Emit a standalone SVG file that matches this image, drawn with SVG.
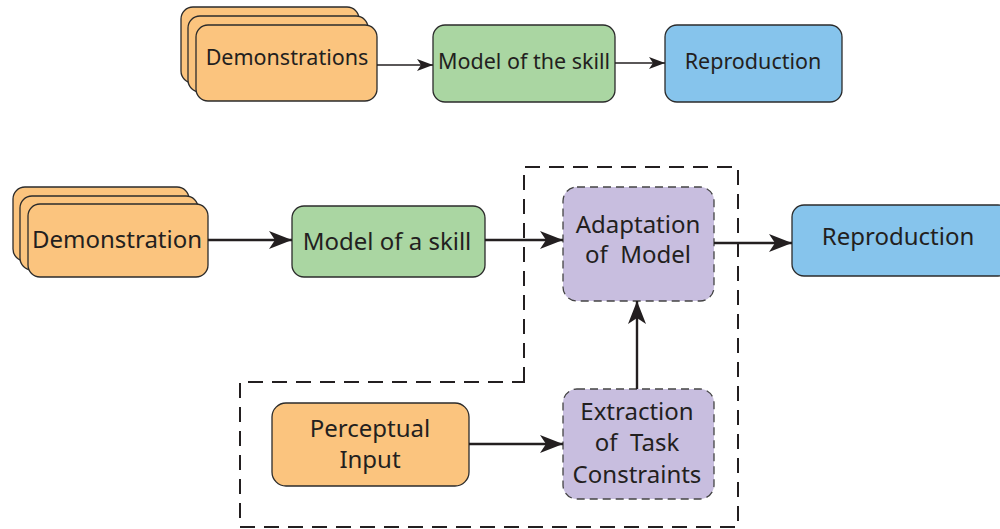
<svg xmlns="http://www.w3.org/2000/svg" width="1000" height="529" viewBox="0 0 1000 529">
  <defs>
    <marker id="arrow-sm" markerUnits="userSpaceOnUse" markerWidth="17" markerHeight="12" refX="16" refY="6" orient="auto">
      <path d="M0,0 L16,6 L0,12 L4,6 Z" fill="#231f20"/>
    </marker>
    <marker id="arrow" markerUnits="userSpaceOnUse" markerWidth="24" markerHeight="18" refX="23" refY="9" orient="auto">
      <path d="M0,0 L23,9 L0,18 L6,9 Z" fill="#231f20"/>
    </marker>
    <style>
      .orange { fill: #fbc47e; stroke: #2b2b2b; stroke-width: 1.3; }
      .green { fill: #aad6a2; stroke: #2b2b2b; stroke-width: 1.3; }
      .blue { fill: #86c4ec; stroke: #2b2b2b; stroke-width: 1.3; }
      .purple { fill: #c8bedf; stroke: #444; stroke-width: 1.3; stroke-dasharray: 8 5; }
      .lbl { font-family: "Noto Sans", "Open Sans", sans-serif; fill: #231f20; text-anchor: middle; }
      .s1 { font-size: 21.5px; }
      .s2 { font-size: 24px; }
      .edge-sm { stroke: #231f20; stroke-width: 1.7; fill: none; marker-end: url(#arrow-sm); }
      .edge { stroke: #231f20; stroke-width: 2.4; fill: none; marker-end: url(#arrow); }
      .region { stroke: #231f20; stroke-width: 2; fill: none; stroke-dasharray: 15 9; }
    </style>
  </defs>

  <!-- top pipeline -->
  <g id="demonstrations-top">
    <rect class="orange" x="181" y="7" width="178" height="76" rx="12"/>
    <rect class="orange" x="188" y="16" width="180" height="76" rx="12"/>
    <rect class="orange" x="196" y="25" width="181" height="76" rx="12"/>
    <text class="lbl s1" x="287" y="65">Demonstrations</text>
  </g>
  <g id="model-top">
    <rect class="green" x="433" y="25" width="182" height="77" rx="12"/>
    <text class="lbl s1" x="524" y="69">Model of the skill</text>
  </g>
  <g id="reproduction-top">
    <rect class="blue" x="665" y="25" width="177" height="77" rx="12"/>
    <text class="lbl s1" x="753" y="69">Reproduction</text>
  </g>

  <!-- bottom pipeline -->
  <g id="region">
    <path class="region" d="M524,382 L524,167 L738,167 L738,527 L240,527 L240,382 Z"/>
  </g>
  <g id="demonstration">
    <rect class="orange" x="13" y="187" width="176" height="74" rx="12"/>
    <rect class="orange" x="20" y="196" width="178" height="74" rx="12"/>
    <rect class="orange" x="28" y="204" width="180" height="73" rx="12"/>
    <text class="lbl s2" x="117" y="248">Demonstration</text>
  </g>
  <g id="model-skill">
    <rect class="green" x="292" y="206" width="193" height="71" rx="12"/>
    <text class="lbl s2" x="387" y="250">Model of a skill</text>
  </g>
  <g id="adaptation">
    <rect class="purple" x="563" y="187" width="151" height="114" rx="14"/>
    <text class="lbl s2" x="638" y="233">Adaptation</text>
    <text class="lbl s2" x="638" y="263">of&#160; Model</text>
  </g>
  <g id="reproduction">
    <rect class="blue" x="792" y="205" width="218" height="71" rx="12"/>
    <text class="lbl s2" x="898" y="245">Reproduction</text>
  </g>
  <g id="perceptual">
    <rect class="orange" x="272" y="403" width="197" height="83" rx="14"/>
    <text class="lbl s2" x="370" y="437">Perceptual</text>
    <text class="lbl s2" x="370" y="468">Input</text>
  </g>
  <g id="extraction">
    <rect class="purple" x="563" y="389" width="151" height="110" rx="14"/>
    <text class="lbl s2" x="637" y="420">Extraction</text>
    <text class="lbl s2" x="637" y="451">of&#160; Task</text>
    <text class="lbl s2" x="637" y="483">Constraints</text>
  </g>

  <g id="connectors">
    <line class="edge-sm" x1="377" y1="65" x2="433" y2="65"/>
    <line class="edge-sm" x1="615" y1="63" x2="665" y2="63"/>
    <line class="edge" x1="208" y1="240" x2="292" y2="240"/>
    <line class="edge" x1="485" y1="240" x2="563" y2="240"/>
    <line class="edge" x1="714" y1="243" x2="792" y2="243"/>
    <line class="edge" x1="469" y1="444" x2="563" y2="444"/>
    <line class="edge" x1="637" y1="389" x2="637" y2="301"/>
  </g>
</svg>
